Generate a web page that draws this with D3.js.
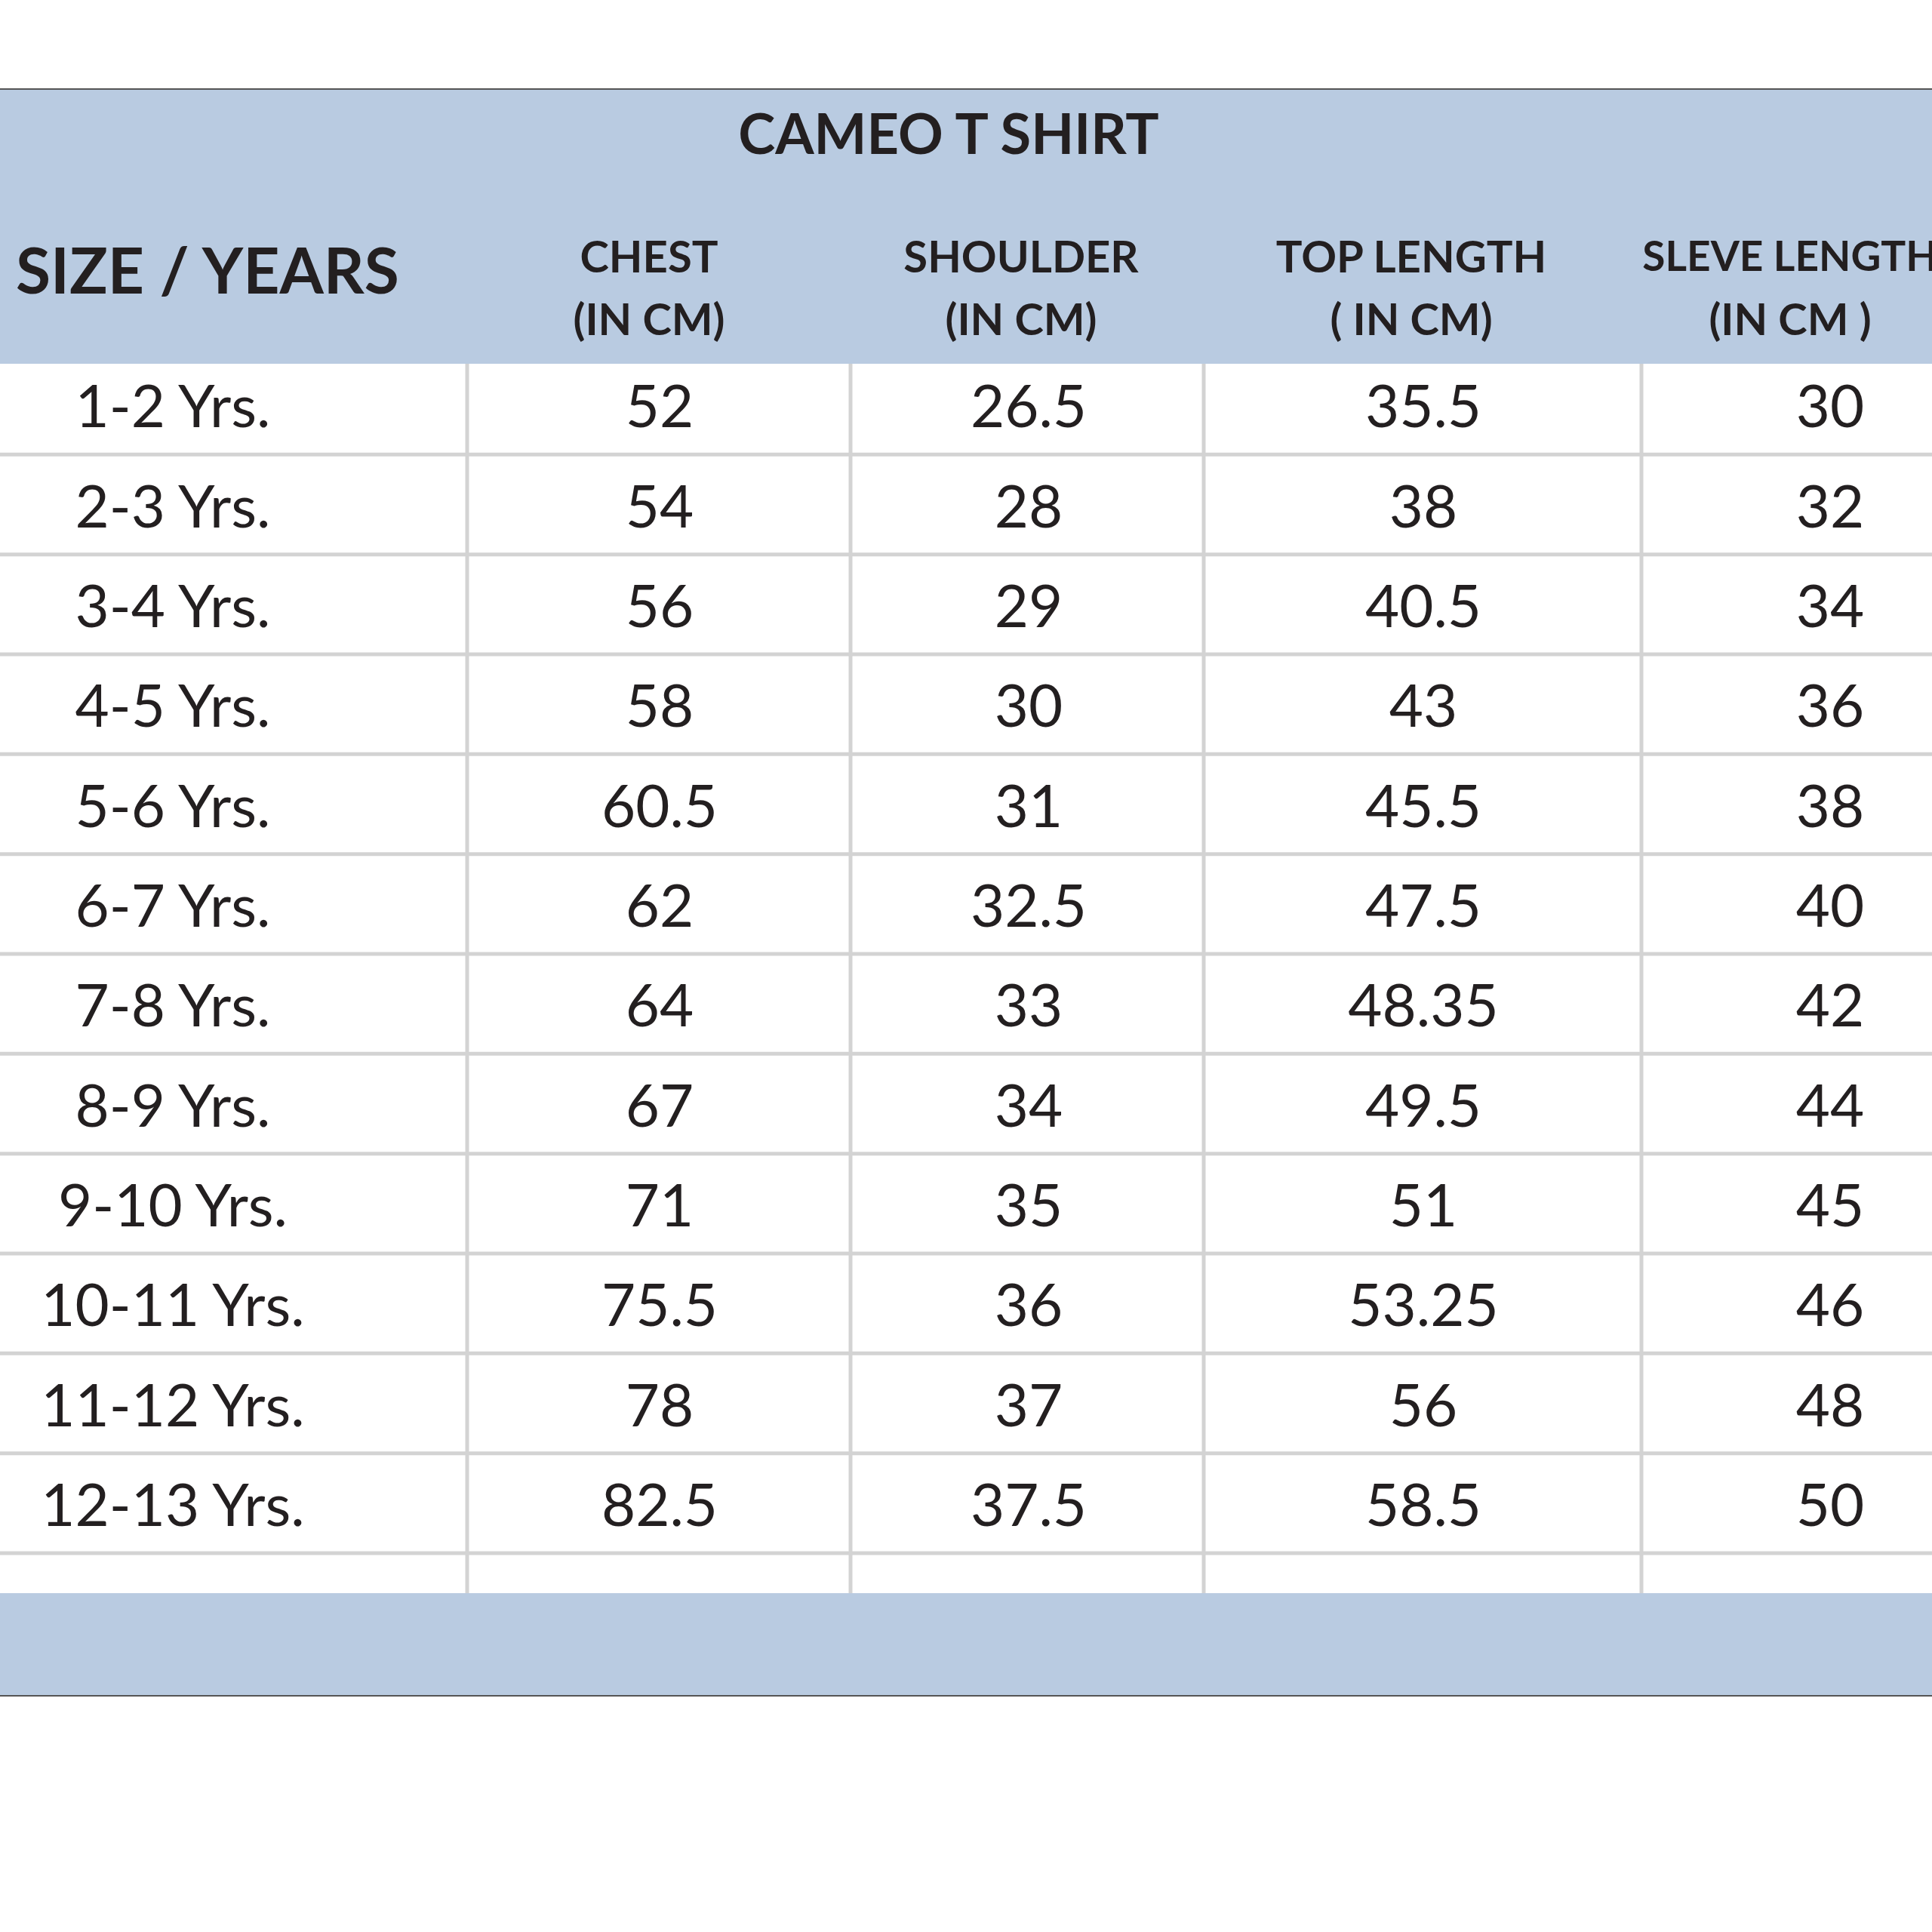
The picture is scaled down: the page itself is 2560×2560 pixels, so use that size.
<!DOCTYPE html>
<html><head><meta charset="utf-8">
<script src="https://cdn.jsdelivr.net/npm/d3@7"></script>
<style>body{margin:0;background:#fff}</style>
</head><body>
<div id="chart"></div>
<script>
const title = "CAMEO T SHIRT";
const sizes = ["1-2 Yrs.","2-3 Yrs.","3-4 Yrs.","4-5 Yrs.","5-6 Yrs.","6-7 Yrs.","7-8 Yrs.","8-9 Yrs.","9-10 Yrs.","10-11 Yrs.","11-12 Yrs.","12-13 Yrs."];
const columns = [["CHEST","(IN CM)"],["SHOULDER","(IN CM)"],["TOP LENGTH","( IN CM)"],["SLEVE LENGTH","(IN CM )"]];
const chest = ["52","54","56","58","60.5","62","64","67","71","75.5","78","82.5"];
const shoulder = ["26.5","28","29","30","31","32.5","33","34","35","36","37","37.5"];
const topLength = ["35.5","38","40.5","43","45.5","47.5","48.35","49.5","51","53.25","56","58.5"];
const sleeve = ["30","32","34","36","38","40","42","44","45","46","48","50"];
const series = [chest, shoulder, topLength, sleeve];

const W = 2560, H = 2560;
const band = "#b9cbe1", grid = "#d3d3d3", ink = "#231f20";
const font = "Lato, 'Open Sans', sans-serif";

const svg = d3.select("#chart").append("svg").attr("width", W).attr("height", H);

const y = d3.scaleBand().domain(sizes).range([470, 2058]);
const edges = [0, 619, 1127, 1595, 2175, W];
const centers = [229, 874, 1363, 1886, 2425];
const tableBottom = 2111;

// header and footer bands
svg.append("rect").attr("x",0).attr("y",117).attr("width",W).attr("height",365).attr("fill",band);
svg.append("rect").attr("x",0).attr("y",tableBottom).attr("width",W).attr("height",136).attr("fill",band);
svg.append("line").attr("x1",0).attr("x2",W).attr("y1",118).attr("y2",118).attr("stroke","#555").attr("stroke-width",2);
svg.append("line").attr("x1",0).attr("x2",W).attr("y1",2247).attr("y2",2247).attr("stroke","#555").attr("stroke-width",2);

// grid
svg.selectAll(".hl").data(sizes).join("line")
  .attr("x1",0).attr("x2",W)
  .attr("y1",d=>y(d)+y.bandwidth()).attr("y2",d=>y(d)+y.bandwidth())
  .attr("stroke",grid).attr("stroke-width",5);
svg.selectAll(".vl").data(edges.slice(1,-1)).join("line")
  .attr("x1",d=>d).attr("x2",d=>d).attr("y1",482).attr("y2",tableBottom)
  .attr("stroke",grid).attr("stroke-width",5);

// title
svg.append("text").attr("x",1257).attr("y",175).attr("text-anchor","middle")
  .attr("dominant-baseline","central").attr("font-family",font).attr("font-weight",700)
  .attr("font-size",74).attr("fill",ink).text(title);

svg.append("text").attr("x",21).attr("y",356).attr("dominant-baseline","central")
  .attr("font-family",font).attr("font-weight",700).attr("font-size",84).attr("fill",ink)
  .text("SIZE / YEARS");

const hx = [860, 1353, 1870, 2372];
columns.forEach((c,i)=>{
  c.forEach((line,j)=>{
    svg.append("text").attr("x",hx[i]).attr("y",338+j*83).attr("text-anchor","middle")
      .attr("dominant-baseline","central").attr("font-family",font).attr("font-weight",700)
      .attr("font-size",i===3 && j===0 ? 55 : 58).attr("fill",ink).text(line);
  });
});

// body
const cell = (vals, cx) => svg.append("g").selectAll("text").data(vals).join("text")
  .attr("x",cx).attr("y",(d,i)=>y(sizes[i])+y.bandwidth()/2)
  .attr("text-anchor","middle").attr("dominant-baseline","central")
  .attr("font-family",font).attr("font-size",78).attr("fill",ink).text(d=>d);
cell(sizes, centers[0]);
series.forEach((s,i)=>cell(s, centers[i+1]));
</script>
</body></html>
